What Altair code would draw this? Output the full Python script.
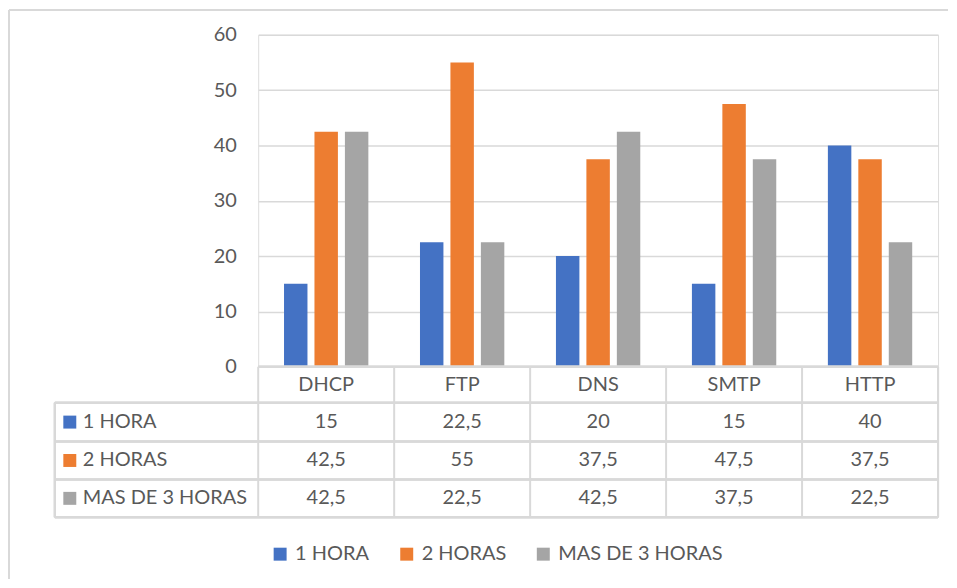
import altair as alt
import pandas as pd

categories = ["DHCP", "FTP", "DNS", "SMTP", "HTTP"]
series = ["1 HORA", "2 HORAS", "MAS DE 3 HORAS"]
values_1h = [15, 22.5, 20, 15, 40]
values_2h = [42.5, 55, 37.5, 47.5, 37.5]
values_3h = [42.5, 22.5, 42.5, 37.5, 22.5]
colors = ["#4472C4", "#ED7D31", "#A5A5A5"]
y_ticks = [0, 10, 20, 30, 40, 50, 60]

FONT = "Lato"
TXT = "#595959"
LINE = "#D9D9D9"
FS = 20

W, H = 682, 333
row_top = [333, 369, 408, 446, 484]
row_center = [(row_top[i] + row_top[i + 1]) / 2 for i in range(4)]
LEFT = -204

rows = []
for s, vals in zip(series, [values_1h, values_2h, values_3h]):
    for c, v in zip(categories, vals):
        rows.append({"cat": c, "series": s, "value": v,
                     "label": (f"{v:g}").replace(".", ",")})
df = pd.DataFrame(rows)
cat_df = pd.DataFrame({"cat": categories})
ser_df = pd.DataFrame({"series": series})

xenc = alt.X("cat:N", sort=categories,
             scale=alt.Scale(paddingInner=0, paddingOuter=0), axis=None)
color_scale = alt.Scale(domain=series, range=colors)

bars = alt.Chart(df).mark_bar().encode(
    x=xenc,
    xOffset=alt.XOffset("series:N", sort=series,
                        scale=alt.Scale(paddingInner=0.23, paddingOuter=0.848)),
    y=alt.Y("value:Q", scale=alt.Scale(domain=[0, 60]),
            axis=alt.Axis(values=y_ticks, grid=True, gridColor=LINE, gridWidth=1.5,
                          domain=False, ticks=False, labelPadding=22,
                          labelFontSize=FS, labelColor=TXT, labelFont=FONT,
                          title=None)),
    color=alt.Color("series:N", scale=color_scale, sort=series,
                    legend=alt.Legend(orient="none", legendX=12, legendY=511,
                                      direction="horizontal", title=None,
                                      symbolType="square", symbolSize=169,
                                      symbolStrokeWidth=0, labelLimit=0,
                                      labelFontSize=FS, labelFont=FONT,
                                      labelColor=TXT, labelOffset=5,
                                      columnPadding=27, padding=0)),
)

layers = [bars]

# table horizontal lines
for yy in row_top[1:]:
    layers.append(alt.Chart(cat_df).mark_rule(color=LINE, strokeWidth=2).encode(
        x=alt.value(LEFT), x2=alt.value(W), y=alt.value(yy)))
# top line (axis baseline)
layers.append(alt.Chart(cat_df).mark_rule(color=LINE, strokeWidth=2).encode(
    x=alt.value(0), x2=alt.value(W), y=alt.value(H)))
# vertical lines
layers.append(alt.Chart(cat_df).mark_rule(color=LINE, strokeWidth=2).encode(
    x=alt.X("cat:N", sort=categories, bandPosition=0,
            scale=alt.Scale(paddingInner=0, paddingOuter=0), axis=None),
    y=alt.value(row_top[0]), y2=alt.value(row_top[-1])))
layers.append(alt.Chart(cat_df).mark_rule(color=LINE, strokeWidth=2).encode(
    x=alt.value(W), y=alt.value(row_top[0]), y2=alt.value(row_top[-1])))
layers.append(alt.Chart(cat_df).mark_rule(color=LINE, strokeWidth=2).encode(
    x=alt.value(LEFT), y=alt.value(row_top[1]), y2=alt.value(row_top[-1])))

# header row
layers.append(alt.Chart(cat_df).mark_text(fontSize=FS, font=FONT, color=TXT,
                                          baseline="middle").encode(
    x=xenc, y=alt.value(row_center[0]), text="cat:N"))

# value rows + row labels
for i, s in enumerate(series):
    sub = df[df["series"] == s]
    layers.append(alt.Chart(sub).mark_text(fontSize=FS, font=FONT, color=TXT,
                                           baseline="middle").encode(
        x=xenc, y=alt.value(row_center[i + 1]), text="label:N"))
    sd = ser_df[ser_df["series"] == s]
    layers.append(alt.Chart(sd).mark_square(size=169, opacity=1, filled=True).encode(
        x=alt.value(-189), y=alt.value(row_center[i + 1]),
        color=alt.Color("series:N", scale=color_scale, legend=None)))
    layers.append(alt.Chart(sd).mark_text(fontSize=FS, font=FONT, color=TXT,
                                          align="left", baseline="middle").encode(
        x=alt.value(-176), y=alt.value(row_center[i + 1]), text="series:N"))

# outer border (top and left)
layers.append(alt.Chart(cat_df).mark_rule(color=LINE, strokeWidth=2).encode(
    x=alt.value(-250), x2=alt.value(692), y=alt.value(-25)))
layers.append(alt.Chart(cat_df).mark_rule(color=LINE, strokeWidth=2).encode(
    x=alt.value(-250), y=alt.value(-25), y2=alt.value(546)))

chart = alt.layer(*layers).properties(
    width=W, height=H, padding=0
).configure_view(stroke=None).configure(font=FONT)

chart.save("out.html", embed_options={"renderer": "svg", "actions": False})
